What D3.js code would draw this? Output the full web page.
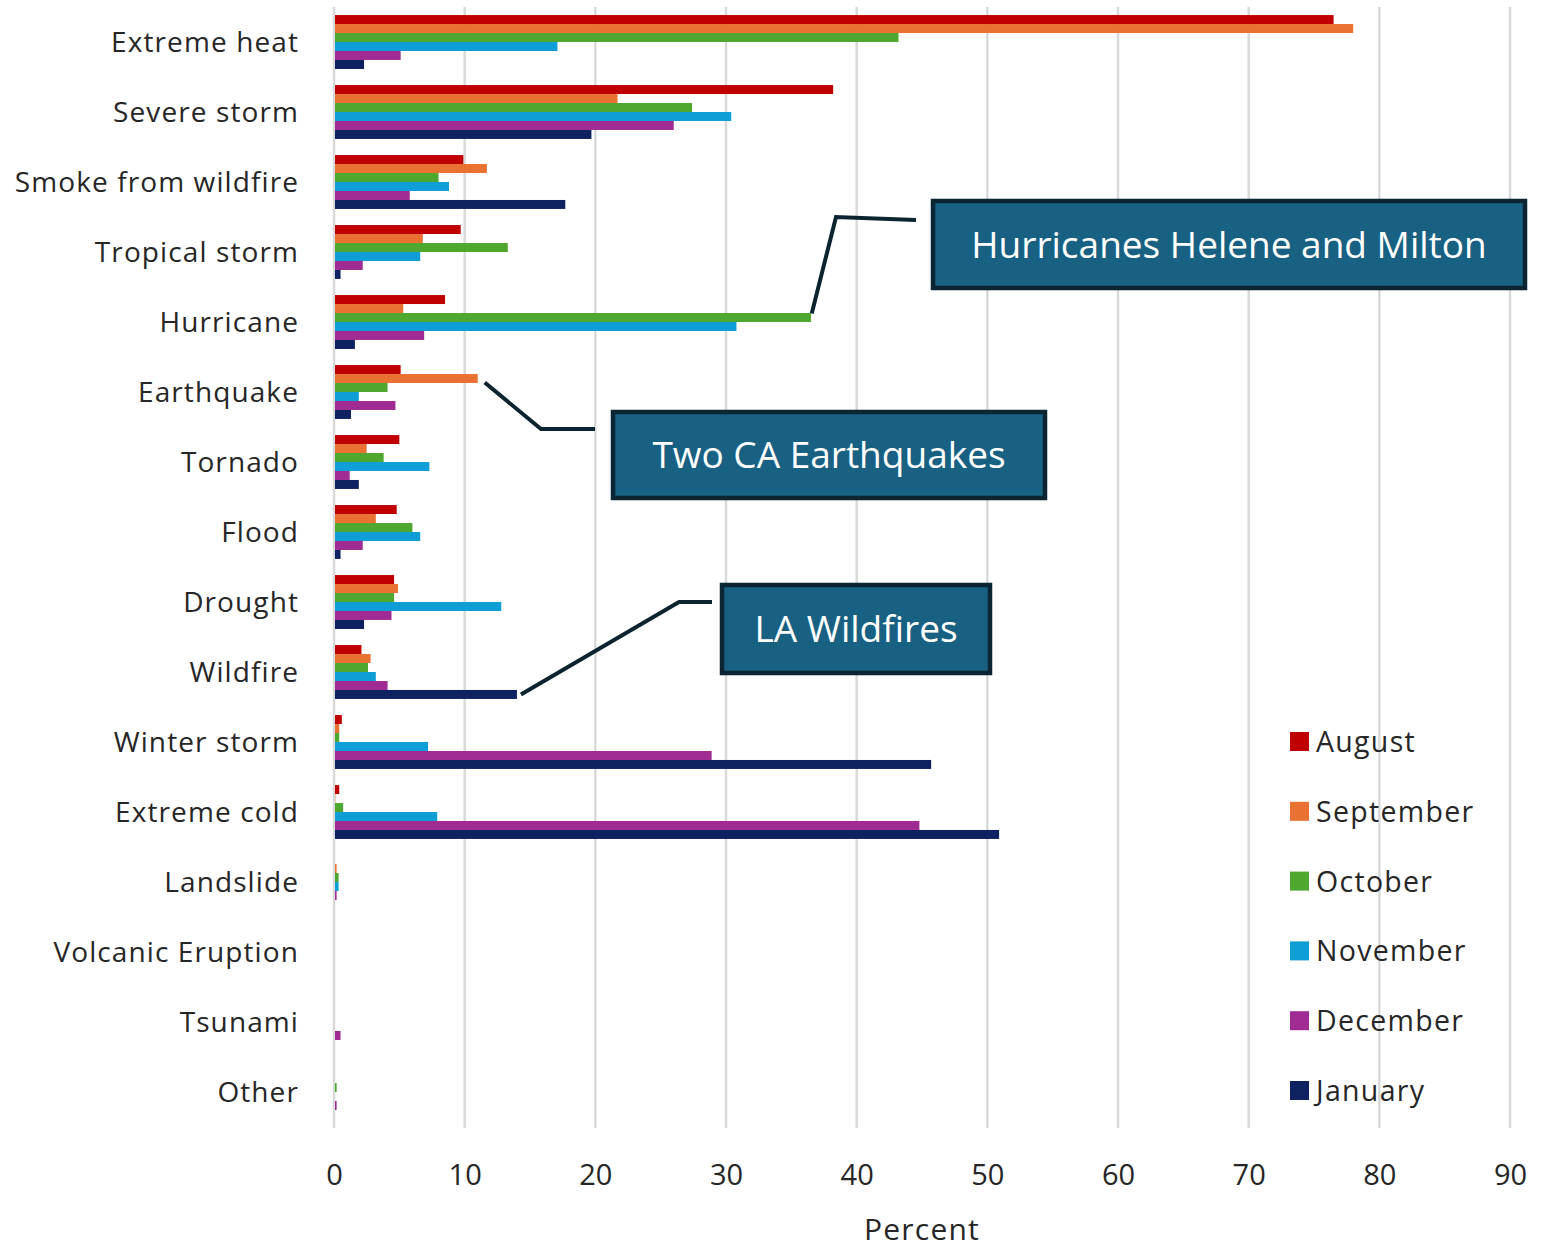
<!DOCTYPE html>
<html><head><meta charset="utf-8">
<script src="https://cdn.jsdelivr.net/npm/d3@7"></script>
<style>body{margin:0;background:#fff}svg{display:block}text{font-family:"Open Sans",sans-serif}</style>
</head><body><svg id="c" width="1542" height="1250"></svg>
<script>
const categories = ["Extreme heat","Severe storm","Smoke from wildfire","Tropical storm","Hurricane","Earthquake","Tornado","Flood","Drought","Wildfire","Winter storm","Extreme cold","Landslide","Volcanic Eruption","Tsunami","Other"];
const seriesNames = ["August","September","October","November","December","January"];
const seriesColors = ["#C00000","#E97132","#4EA72E","#0F9ED5","#A02B93","#0E2160"];
const august    = [76.5,38.2, 9.9, 9.7, 8.5, 5.1,5.0,4.8, 4.6, 2.1, 0.6, 0.4,0.0,0,0.0,0.0];
const september = [78.0,21.7,11.7, 6.8, 5.3,11.0,2.5,3.2, 4.9, 2.8, 0.4, 0.1,0.2,0,0.0,0.0];
const october   = [43.2,27.4, 8.0,13.3,36.5, 4.1,3.8,6.0, 4.6, 2.6, 0.4, 0.7,0.35,0,0.0,0.2];
const november  = [17.1,30.4, 8.8, 6.6,30.8, 1.9,7.3,6.6,12.8, 3.2, 7.2, 7.9,0.35,0,0.0,0.0];
const december  = [ 5.1,26.0, 5.8, 2.2, 6.9, 4.7,1.2,2.2, 4.4, 4.1,28.9,44.8,0.2,0,0.5,0.2];
const january   = [ 2.3,19.7,17.7, 0.5, 1.6, 1.3,1.9,0.5, 2.3,14.0,45.7,50.9,0.0,0,0.0,0.0];
const seriesValues = [august,september,october,november,december,january];
const xTicks = [0,10,20,30,40,50,60,70,80,90];
const annotations = [
  {text:"Hurricanes Helene and Milton", cat:"Hurricane", series:"October", box:[933,201,592,87], path:[[916,220],[836,217]], tip:[0.8,-4]},
  {text:"Two CA Earthquakes", cat:"Earthquake", series:"September", box:[613,412,432,86], path:[[595,429],[541,429]], tip:[7,4]},
  {text:"LA Wildfires", cat:"Wildfire", series:"January", box:[722,585,268,88], path:[[712,602],[679,602]], tip:[4,0]}
];

const svg = d3.select("#c");
const x = d3.scaleLinear().domain([0,90]).range([334,1510]);
const y = d3.scaleBand().domain(categories).range([7,1127]).paddingInner(0.23).paddingOuter(0.115);
const ys = d3.scaleBand().domain(seriesNames).range([0,y.bandwidth()]);

// gridlines
svg.append("g").selectAll("line").data(xTicks).join("line")
  .attr("x1",d=>x(d)).attr("x2",d=>x(d)).attr("y1",7).attr("y2",1128)
  .attr("stroke","#d9d9d9").attr("stroke-width",2.5);

// x axis labels
const xAxis = d3.axisBottom(x).tickValues(xTicks).tickSize(0).tickPadding(0);
const gx = svg.append("g").attr("transform","translate(0,1185)").call(xAxis);
gx.select(".domain").remove();
gx.selectAll("text").attr("font-size",29).attr("fill","#262626").attr("dy","0");

svg.append("text").attr("x",(x(0)+x(90))/2).attr("y",1240).attr("text-anchor","middle")
  .attr("font-size",30).attr("letter-spacing",1.2).attr("fill","#262626").text("Percent");

// y axis labels
const yAxis = d3.axisLeft(y).tickSize(0).tickPadding(35);
const gy = svg.append("g").attr("transform","translate(334,0)").call(yAxis);
gy.select(".domain").remove();
gy.selectAll("text").attr("font-size",28).attr("letter-spacing",1.1).attr("fill","#262626").attr("dy","0.35em");

// bars
const rows = [];
seriesNames.forEach((s,i)=>categories.forEach((c,j)=>rows.push({s,c,v:seriesValues[i][j],color:seriesColors[i]})));
svg.append("g").selectAll("rect").data(rows.filter(d=>d.v>0)).join("rect")
  .attr("x",x(0)+1).attr("y",d=>y(d.c)+ys(d.s))
  .attr("width",d=>Math.max(0,x(d.v)-x(0)-1)).attr("height",ys.bandwidth())
  .attr("fill",d=>d.color);

// legend
const lg = svg.append("g");
seriesNames.forEach((s,i)=>{
  const cy = 742 + i*69.8;
  lg.append("rect").attr("x",1290).attr("y",cy-10).attr("width",19).attr("height",19).attr("fill",seriesColors[i]);
  lg.append("text").attr("x",1316).attr("y",cy).attr("dy","0.35em").attr("font-size",28.5).attr("letter-spacing",1.3).attr("fill","#262626").text(s);
});

// annotations
annotations.forEach(a=>{
  const ci = categories.indexOf(a.cat), si = seriesNames.indexOf(a.series);
  const v = seriesValues[si][ci];
  const end = [x(v)+a.tip[0], y(a.cat)+ys(a.series)+ys.bandwidth()/2+a.tip[1]];
  const pts = a.path.concat([end]);
  svg.append("path").attr("d",d3.line()(pts)).attr("fill","none").attr("stroke","#0C2430").attr("stroke-width",4);
  const [bx,by,bw,bh] = a.box;
  svg.append("rect").attr("x",bx).attr("y",by).attr("width",bw).attr("height",bh)
    .attr("fill","#186183").attr("stroke","#0B2533").attr("stroke-width",4.5);
  svg.append("text").attr("x",bx+bw/2).attr("y",by+bh/2).attr("dy","0.36em").attr("text-anchor","middle")
    .attr("font-size",37).attr("fill","#fff").text(a.text);
});
</script></body></html>
